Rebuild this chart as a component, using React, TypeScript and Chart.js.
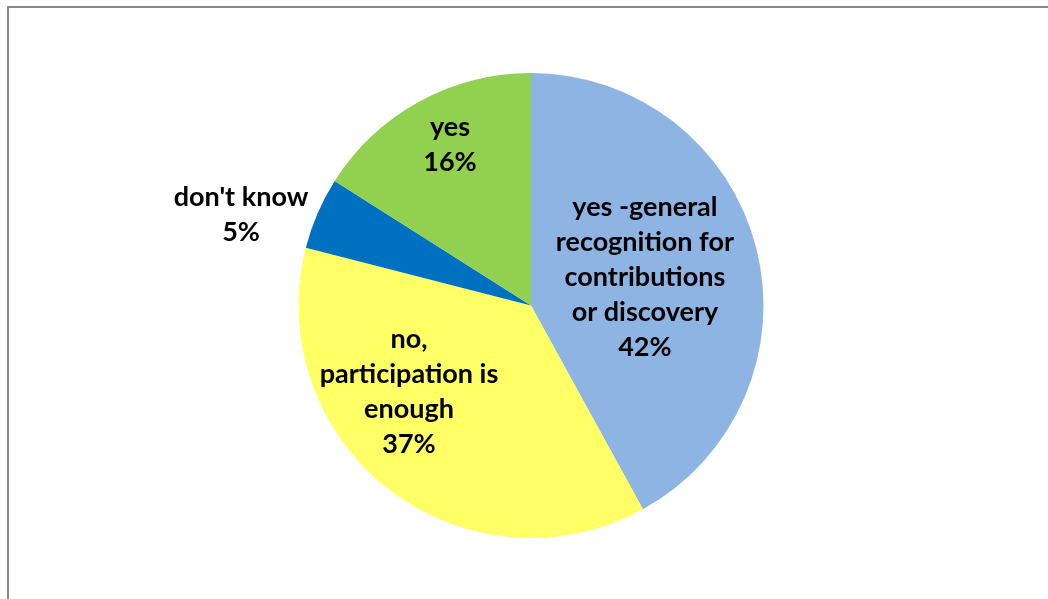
import React, { useEffect, useRef } from "react";
import { Chart, registerables } from "chart.js";

Chart.register(...registerables);

const categories = [
  "yes -general recognition for contributions or discovery",
  "no, participation is enough",
  "don't know",
  "yes",
];
const values = [42, 37, 5, 16];
const labelLines = [
  ["yes -general", "recognition for", "contributions", "or discovery"],
  ["no,", "participation is", "enough"],
  ["don't know"],
  ["yes"],
];
const colors = ["#8EB4E3", "#FFFF66", "#0070C0", "#92D050"];

const labelPlacement = {
  radiusFactor: [0.505, 0.643, 1.307, 0.773],
  angleOffsetDeg: [0.4, 16.9, -6, 2],
};

const labelPlugin = {
  id: "sliceLabels",
  afterDatasetsDraw(chart: any) {
    const ctx = chart.ctx;
    const meta = chart.getDatasetMeta(0);
    const data = chart.data.datasets[0].data as number[];
    const total = data.reduce((a, b) => a + b, 0);
    ctx.save();
    ctx.fillStyle = "#000000";
    ctx.font = "bold 27px Lato";
    ctx.textAlign = "center";
    ctx.textBaseline = "middle";
    const lh = 35;
    meta.data.forEach((arc: any, i: number) => {
      const p = arc.getProps(["x", "y", "startAngle", "endAngle", "outerRadius"], true);
      const mid =
        (p.startAngle + p.endAngle) / 2 +
        (labelPlacement.angleOffsetDeg[i] * Math.PI) / 180;
      const r = p.outerRadius * labelPlacement.radiusFactor[i];
      const cx = p.x + Math.cos(mid) * r;
      const cy = p.y + Math.sin(mid) * r;
      const pct = Math.round((data[i] / total) * 100) + "%";
      const lines = [...labelLines[i], pct];
      const startY = cy - ((lines.length - 1) * lh) / 2;
      lines.forEach((t, k) => ctx.fillText(t, cx, startY + k * lh));
    });
    ctx.restore();
  },
};

export default function App() {
  const ref = useRef<HTMLCanvasElement>(null);
  useEffect(() => {
    if (!ref.current) return;
    const chart = new Chart(ref.current, {
      type: "pie",
      data: {
        labels: categories,
        datasets: [
          {
            data: values,
            backgroundColor: colors,
            borderWidth: 0,
          },
        ],
      },
      options: {
        responsive: false,
        animation: false,
        layout: { padding: { left: 298, right: 284, top: 73, bottom: 61 } },
        plugins: {
          legend: { display: false },
          tooltip: { enabled: false },
        },
      },
      plugins: [labelPlugin],
    });
    return () => chart.destroy();
  }, []);
  return (
    <div
      style={{
        position: "fixed",
        left: 0,
        top: 0,
        width: 1048,
        height: 599,
        overflow: "hidden",
        background: "#ffffff",
      }}
    >
      <div
        style={{
          position: "absolute",
          left: 7,
          top: 6,
          width: 1200,
          height: 800,
          border: "2px solid #8a8a8a",
          boxSizing: "border-box",
        }}
      />
      <canvas
        ref={ref}
        width={1048}
        height={599}
        style={{ position: "absolute", left: 0, top: 0, width: 1048, height: 599 }}
      />
    </div>
  );
}
